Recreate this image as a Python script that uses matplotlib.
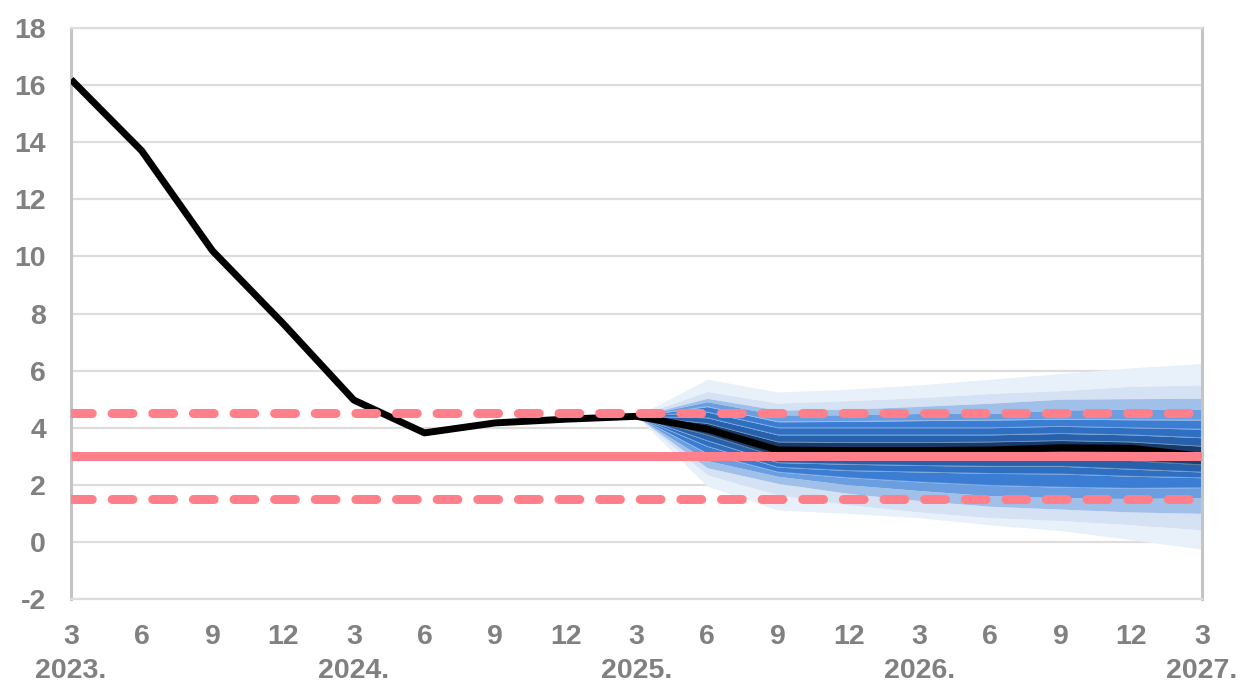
import matplotlib
matplotlib.use("Agg")
import matplotlib.pyplot as plt
import numpy as np

plt.rcParams["axes.unicode_minus"] = False

# ---------------- data ----------------
# quarters from 2023 Q1 (march) to 2027 Q1
months = ["3", "6", "9", "12"] * 4 + ["3"]
years = ["2023.", "2024.", "2025.", "2026.", "2027."]
quarter = np.arange(len(months))

# inflation path (black line)
inflation = [16.2, 13.7, 10.2, 7.65, 4.97, 3.82, 4.17, 4.3, 4.4,
             3.95, 3.22, 3.2, 3.2, 3.22, 3.3, 3.28, 3.0]

# fan chart, starts at 2025 Q1 (quarter 8)
fan_start = 8
hi1 = [4.4, 5.70, 5.25, 5.35, 5.50, 5.70, 5.90, 6.10, 6.25]
hi2 = [4.4, 5.27, 4.86, 4.95, 5.05, 5.20, 5.30, 5.45, 5.50]
hi3 = [4.4, 5.03, 4.62, 4.65, 4.75, 4.86, 5.00, 5.02, 5.03]
hi4 = [4.4, 4.91, 4.45, 4.45, 4.50, 4.50, 4.62, 4.65, 4.65]
hi5 = [4.4, 4.74, 4.21, 4.22, 4.25, 4.27, 4.30, 4.28, 4.27]
hi6 = [4.4, 4.55, 4.00, 4.00, 4.00, 4.00, 4.05, 4.00, 3.95]
hi7 = [4.4, 4.35, 3.75, 3.75, 3.75, 3.75, 3.80, 3.75, 3.65]
hi8 = [4.4, 4.15, 3.50, 3.48, 3.48, 3.50, 3.55, 3.50, 3.35]
lo8 = [4.4, 3.75, 2.98, 2.95, 2.93, 2.92, 2.95, 2.85, 2.70]
lo7 = [4.4, 3.55, 2.78, 2.72, 2.68, 2.65, 2.65, 2.55, 2.45]
lo6 = [4.4, 3.35, 2.62, 2.50, 2.45, 2.40, 2.38, 2.30, 2.25]
lo5 = [4.4, 3.10, 2.45, 2.25, 2.10, 1.98, 1.92, 1.88, 1.90]
lo4 = [4.4, 2.85, 2.30, 2.00, 1.80, 1.62, 1.55, 1.52, 1.55]
lo3 = [4.4, 2.60, 2.05, 1.70, 1.45, 1.25, 1.15, 1.05, 1.00]
lo2 = [4.4, 2.35, 1.65, 1.30, 1.05, 0.85, 0.75, 0.60, 0.42]
lo1 = [4.4, 1.95, 1.12, 1.00, 0.85, 0.60, 0.40, 0.08, -0.25]

# inflation target with tolerance band
target = 3.0
target_low = 1.5
target_high = 4.5

# ---------------- plot ----------------
fig = plt.figure(figsize=(12.4, 6.85), dpi=100)
ax = fig.add_axes([0.0573, 0.1255, 0.9121, 0.8335])

grey = "#808080"
pink = "#ff7f8a"

fx = quarter[fan_start:]
upper = [hi1, hi2, hi3, hi4, hi5, hi6, hi7, hi8]
lower = [lo1, lo2, lo3, lo4, lo5, lo6, lo7, lo8]
colors = ["#e8f0f9", "#d4e2f4", "#a0c0e9", "#6b9ee0",
          "#3a7dd2", "#2f6fc2", "#2760ab", "#1d4b86"]

# outer -> inner, upper half and lower half
for i in range(len(upper)):
    inner_hi = upper[i + 1] if i + 1 < len(upper) else inflation[fan_start:]
    inner_lo = lower[i + 1] if i + 1 < len(lower) else inflation[fan_start:]
    ax.fill_between(fx, inner_hi, upper[i], color=colors[i], lw=0, zorder=1)
    ax.fill_between(fx, lower[i], inner_lo, color=colors[i], lw=0, zorder=1)
# darkest core
ax.fill_between(fx, inflation[fan_start:], hi8, color="#173a68", lw=0, zorder=1)
ax.fill_between(fx, lo8, inflation[fan_start:], color="#1a4274", lw=0, zorder=1)

# thin light separator lines inside the fan
for edge in [hi5, hi6, hi7, hi8, lo8, lo7, lo6, lo5]:
    ax.plot(fx, edge, color="white", lw=0.6, alpha=0.35, zorder=1.5)

ax.plot(quarter, inflation, color="black", lw=5, zorder=3,
        solid_joinstyle="round", solid_capstyle="butt")

ax.axhline(target, color=pink, lw=6.5, zorder=4, solid_capstyle="butt")
for lvl in [target_low, target_high]:
    ax.axhline(lvl, color=pink, lw=6.5, zorder=4, dash_capstyle="round",
               dashes=(2.3, 2.2))

# axes styling
ax.set_xlim(0, 16)
ax.set_ylim(-2, 18)
ax.set_yticks(np.arange(-2, 19, 2))
ax.yaxis.grid(True, color="#dddddd", lw=1.6, zorder=0)
ax.set_axisbelow(True)
for side in ["top", "bottom"]:
    ax.spines[side].set_color("#dddddd")
    ax.spines[side].set_linewidth(1.6)
for side in ["left", "right"]:
    ax.spines[side].set_color("#c4c4c4")
    ax.spines[side].set_linewidth(2.2)

xlabels = []
for i, m in enumerate(months):
    if i % 4 == 0:
        xlabels.append(m + "\n" + years[i // 4])
    else:
        xlabels.append(m)
ax.set_xticks(quarter)
ax.set_xticklabels(xlabels, linespacing=1.42)

ax.tick_params(axis="both", length=0, labelcolor=grey, labelsize=20.5)
ax.tick_params(axis="y", pad=18)
ax.tick_params(axis="x", pad=18)
for lab in ax.get_xticklabels() + ax.get_yticklabels():
    lab.set_fontfamily("Liberation Sans")
    lab.set_fontweight("bold")

fig.savefig("out.png", dpi=100)
